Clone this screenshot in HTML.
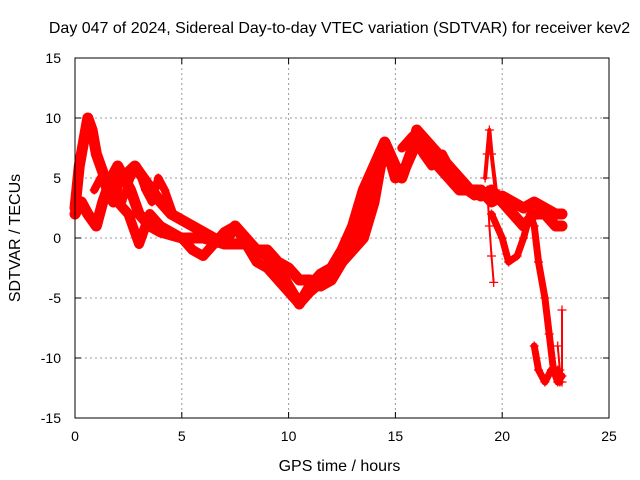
<!DOCTYPE html>
<html><head><meta charset="utf-8">
<style>
body{margin:0;background:#fff;}
svg{display:block;font-family:"Liberation Sans",sans-serif;}
</style></head>
<body>
<svg id="chart" width="640" height="480" viewBox="0 0 640 480" xmlns="http://www.w3.org/2000/svg">
<rect width="640" height="480" fill="#fff"/>
<text x="339.5" y="33" font-size="16" text-anchor="middle" fill="#000">Day 047 of 2024, Sidereal Day-to-day VTEC variation (SDTVAR) for receiver kev2</text>
<text x="339.5" y="471" font-size="16" text-anchor="middle">GPS time / hours</text>
<text transform="translate(20,238) rotate(-90)" font-size="16" text-anchor="middle">SDTVAR / TECUs</text>
<g id="grid"></g>
<g id="ticks"></g>
<g id="series"></g>
<rect x="75" y="58" width="534" height="360" fill="none" stroke="#000" stroke-width="1"/>
</svg>
<script>
const xTicks=[0,5,10,15,20,25];
const yTicks=[-15,-10,-5,0,5,10,15];
const track1=[[0,2],[0.3,3],[0.6,2],[1.0,1],[1.3,3],[1.7,5],[2.0,6],[2.3,5],[2.6,4],[3.0,2],[3.5,1],[4.0,0.5],[5,0],[6,0],[7,-0.5],[8,-0.5],[9,-1.5],[9.5,-2.5],[10,-4],[10.5,-5.5],[11,-4],[11.5,-3],[12,-2.5],[12.5,-1],[13,1],[13.5,4],[14,6],[14.5,8],[15,6],[15.3,5],[15.7,7],[16,9],[16.5,8],[17,7],[17.5,6],[18,5],[18.5,4],[19,3.5],[19.5,4],[20,3],[20.5,2],[21,1],[21.5,2],[22,2],[22.5,1],[22.8,1]];
const track2=[[0,2.5],[0.2,6],[0.4,8],[0.6,10],[0.8,9],[1.0,7],[1.3,5.5],[1.5,4],[1.8,3],[2.0,4.5],[2.5,5.5],[2.8,6],[3.2,5],[3.6,4],[4,3],[4.5,2],[5,1.5],[5.5,1],[6,0.5],[6.5,0],[7,-0.5],[7.5,1],[8,0],[8.5,-1],[9,-1],[9.5,-2],[10,-2.5],[10.5,-3.5],[11,-3.5],[11.5,-4],[12,-3.5],[12.5,-2],[13,-1],[13.5,0],[14,3],[14.3,6],[14.6,7.5],[15,5],[15.5,6],[16,8],[16.5,7],[17,6],[17.5,5],[18,4],[18.5,4],[19,4],[19.5,3],[20,3.5],[20.5,3],[21,2.5],[21.5,3],[22,2.5],[22.5,2],[22.8,2]];
const track3=[[19.5,2],[20,0],[20.3,-2],[20.7,-1.5],[21,0],[21.3,2],[21.5,1],[21.7,-2],[22,-5],[22.2,-8],[22.4,-11],[22.6,-12],[22.8,-11.5]];
const track4=[[21.5,-9],[21.7,-11],[22,-12],[22.3,-11],[22.6,-11],[22.7,-12]];
const track5=[[19.3,4],[19.4,1],[19.5,-1.5],[19.6,-3.7]];
const track6=[[19.2,5],[19.3,7],[19.4,9],[19.5,7],[19.7,4]];
const track7=[[1.5,4.5],[2,3],[2.5,2],[3,-0.5],[3.5,2],[4,1],[5,0],[5.5,-1],[6,-1.5],[6.5,-0.5],[7,0.5],[7.5,1],[8,-0.5],[8.5,-2],[9,-2.5],[9.5,-3.5],[10,-4.5],[10.5,-5.5],[11,-4.5],[12,-3],[12.5,-1.5],[13,0],[13.5,3],[14,5],[14.5,7]];
const track8=[[15.3,7.5],[15.8,8.5],[16.3,7],[16.7,6],[17.2,7],[17.8,5],[18.3,4],[18.7,3.5]];
const track9=[[22.6,-9],[22.7,-11],[22.8,-12],[22.8,-6]];
const track10=[[0.9,4],[1.2,5],[1.5,4.5],[1.8,4],[2.2,3],[2.6,5],[2.9,6],[3.3,4],[3.6,3],[3.9,5],[4.2,4],[4.6,2],[5,1.5]];
const tracks=[track1,track2,track3,track4,track5,track6,track7,track8,track9,track10];
const widths=[11,11,7,7,2,4,10,9,2,8];
const X=h=>75+h*(534/25);
const Y=v=>238-v*12;
const NS='http://www.w3.org/2000/svg';
const grid=document.getElementById('grid'),ticks=document.getElementById('ticks'),ser=document.getElementById('series');
function mk(tag,attrs,parent){const e=document.createElementNS(NS,tag);for(const k in attrs)e.setAttribute(k,attrs[k]);parent.appendChild(e);return e;}
xTicks.forEach(t=>{
  if(t>0&&t<25){const g=mk('line',{x1:X(t),x2:X(t),y1:58,y2:418,stroke:'#999','stroke-dasharray':'2,3'},grid);
  
  }
  mk('line',{x1:X(t),x2:X(t),y1:418,y2:412,stroke:'#000'},ticks);
  mk('line',{x1:X(t),x2:X(t),y1:58,y2:64,stroke:'#000'},ticks);
  const l=mk('text',{x:X(t),y:441,'font-size':14,'text-anchor':'middle'},ticks);l.textContent=t;
  
  
});
yTicks.forEach(t=>{
  if(t>-15&&t<15){const g=mk('line',{x1:75,x2:609,y1:Y(t),y2:Y(t),stroke:'#999','stroke-dasharray':'2,3'},grid);
  
  }
  mk('line',{x1:75,x2:81,y1:Y(t),y2:Y(t),stroke:'#000'},ticks);
  mk('line',{x1:603,x2:609,y1:Y(t),y2:Y(t),stroke:'#000'},ticks);
  const l=mk('text',{x:61,y:Y(t)+5,'font-size':14,'text-anchor':'end'},ticks);l.textContent=t;
  
  
});
tracks.forEach((tr,i)=>{
  const p=mk('polyline',{points:tr.map(d=>X(d[0])+','+Y(d[1])).join(' '),fill:'none',stroke:'#f00','stroke-width':widths[i],'stroke-linejoin':'round','stroke-linecap':'round'},ser);
  
  
  tr.forEach(d=>{
    const x=X(d[0]),y=Y(d[1]);
    const m=mk('path',{d:`M${x-4.5},${y}H${x+4.5}M${x},${y-4.5}V${y+4.5}`,stroke:'#f00','stroke-width':1.3},ser);
    
    
  });
});
</script>
</body></html>
